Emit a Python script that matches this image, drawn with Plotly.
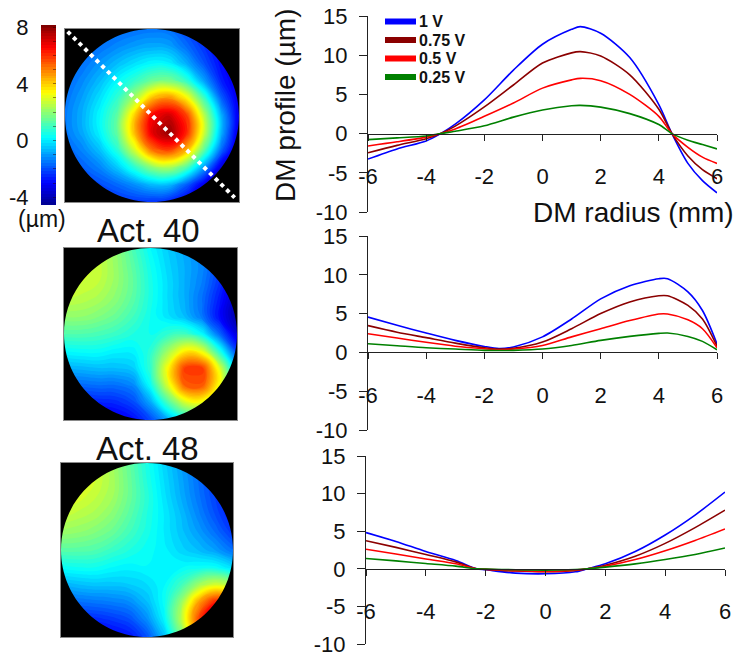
import plotly.graph_objects as go

FIG_W, FIG_H = 736, 657
FONT = "Liberation Sans, Arial, Helvetica, sans-serif"

# ---------------- DM profiles along the diagonal (um) ----------------
SERIES_NAMES = ["1 V", "0.75 V", "0.5 V", "0.25 V"]
SERIES_COLORS = ["#0000ff", "#8b0000", "#ff0000", "#008000"]

RADIUS_CENTER = [-6, -5, -4, -3.5, -3, -2, -1, 0, 1, 1.3, 2, 3, 4, 4.45, 5, 5.5, 6]
CENTER_1V = [-3.25, -1.95, -0.93, 0, 1.2, 4.3, 8.1, 11.4, 13.3, 13.65, 12.8, 9.7, 3.7, 0, -3.8, -6.0, -7.55]
CENTER_075V = [-2.45, -1.5, -0.65, 0, 0.95, 3.4, 6.2, 9.0, 10.3, 10.45, 9.9, 7.5, 3.1, 0, -2.85, -4.6, -5.75]
CENTER_05V = [-1.58, -1.05, -0.45, 0, 0.6, 2.2, 3.9, 5.8, 6.85, 7.05, 6.75, 5.0, 2.2, 0, -1.75, -3.0, -3.8]
CENTER_025V = [-0.77, -0.55, -0.3, 0, 0.3, 1.0, 2.1, 3.0, 3.55, 3.6, 3.38, 2.55, 1.15, 0, -0.85, -1.4, -1.95]

RADIUS_ACT40 = [-6, -5, -4, -3, -2, -1.5, -1, 0, 1, 2, 3, 4, 4.3, 5, 5.5, 6]
ACT40_1V = [4.55, 3.5, 2.5, 1.55, 0.77, 0.5, 0.7, 2.0, 4.3, 6.9, 8.6, 9.5, 9.5, 7.8, 5.4, 1.1]
ACT40_075V = [3.45, 2.6, 1.9, 1.2, 0.6, 0.43, 0.52, 1.33, 3.05, 5.0, 6.5, 7.3, 7.3, 6.05, 4.3, 0.8]
ACT40_05V = [2.4, 1.85, 1.3, 0.8, 0.47, 0.35, 0.43, 0.9, 2.0, 3.05, 4.1, 4.95, 4.95, 4.2, 3.05, 0.6]
ACT40_025V = [1.12, 0.86, 0.6, 0.43, 0.26, 0.24, 0.26, 0.43, 0.9, 1.55, 2.06, 2.45, 2.5, 2.06, 1.42, 0.34]

RADIUS_ACT48 = [-6, -5, -4, -3, -2.3, -2, -1, 0, 1, 1.4, 2, 3, 4, 5, 6]
ACT48_1V = [4.82, 3.64, 2.3, 1.1, 0, -0.13, -0.57, -0.66, -0.4, 0, 0.66, 2.3, 4.5, 7.15, 10.2]
ACT48_075V = [3.73, 2.85, 1.9, 0.92, 0, -0.08, -0.3, -0.4, -0.22, 0, 0.48, 1.67, 3.38, 5.48, 7.8]
ACT48_05V = [2.6, 1.97, 1.3, 0.66, 0, -0.06, -0.26, -0.35, -0.18, 0, 0.35, 1.23, 2.4, 3.77, 5.3]
ACT48_025V = [1.36, 1.05, 0.7, 0.35, 0, -0.03, -0.13, -0.18, -0.09, 0, 0.22, 0.66, 1.23, 1.9, 2.76]

RADIUS_TICKS = [-6, -4, -2, 0, 2, 4, 6]
PROFILE_TICKS = [-10, -5, 0, 5, 10, 15]

# ---------------- measured DM surfaces (um), rows top -> bottom ----------------
GRID = [-1.0, -0.8, -0.6, -0.4, -0.2, 0.0, 0.2, 0.4, 0.6, 0.8, 1.0]

SURF_CENTER = [
    [-2.40, -2.20, -1.95, -1.76, -1.62, -1.52, -1.60, -2.13, -2.68, -3.19, -3.60],
    [-2.20, -1.90, -1.58, -1.26, -0.99, -0.85, -0.95, -1.63, -2.39, -3.07, -3.63],
    [-1.94, -1.57, -1.09, -0.60, -0.15, 0.20, 0.10, -0.80, -1.95, -2.94, -3.60],
    [-1.74, -1.24, -0.62, 0.19, 0.85, 1.57, 1.71, 0.85, -0.95, -2.63, -3.47],
    [-1.57, -0.95, -0.15, 0.80, 2.30, 4.26, 4.85, 3.50, 1.00, -1.81, -3.39],
    [-1.45, -0.77, 0.19, 1.35, 4.00, 6.60, 7.20, 5.77, 2.50, -0.80, -3.35],
    [-1.51, -0.86, 0.11, 1.41, 4.25, 6.90, 7.90, 6.10, 2.74, -0.80, -3.54],
    [-1.83, -1.30, -0.55, 0.67, 2.83, 5.15, 5.77, 4.30, 1.35, -1.73, -3.90],
    [-2.20, -1.80, -1.31, -0.47, 0.73, 1.94, 2.32, 1.20, -1.05, -3.54, -4.33],
    [-2.54, -2.34, -2.04, -1.67, -1.18, -0.63, -0.66, -1.84, -3.31, -4.34, -4.70],
    [-2.90, -2.76, -2.59, -2.44, -2.35, -2.39, -2.63, -3.27, -3.89, -4.48, -4.93],
]

SURF_ACT40 = [
    [3.2, 3.0, 2.6, 2.0, 1.1, 0.2, -0.4, -0.9, -1.4, -2.2, -3.0],
    [3.2, 3.0, 2.7, 2.1, 1.3, 0.4, -0.3, -0.8, -1.3, -2.2, -3.2],
    [3.0, 2.8, 2.6, 2.1, 1.4, 0.5, -0.2, -0.8, -1.4, -2.4, -3.6],
    [2.6, 2.5, 2.3, 1.9, 1.3, 0.5, -0.2, -0.8, -1.6, -2.7, -4.0],
    [2.0, 2.0, 1.8, 1.5, 1.0, 0.4, -0.1, -0.6, -1.5, -2.9, -4.2],
    [1.2, 1.2, 1.1, 0.9, 0.6, 0.4, 0.8, 1.0, 0.2, -1.7, -3.5],
    [0.2, 0.3, 0.3, 0.1, 0.1, 0.7, 2.2, 3.6, 3.1, 0.6, -2.2],
    [-0.8, -0.7, -0.6, -0.6, -0.4, 0.8, 3.4, 5.9, 5.9, 3.0, -0.6],
    [-1.8, -1.7, -1.6, -1.6, -1.3, 0.3, 2.9, 5.4, 5.5, 3.2, 0.3],
    [-2.8, -2.7, -2.6, -2.5, -2.1, -0.9, 1.1, 2.8, 3.1, 1.9, 0.2],
    [-3.6, -3.5, -3.4, -3.3, -2.9, -2.1, -0.9, 0.2, 0.6, 0.3, -0.2],
]

SURF_ACT48 = [
    [3.4, 3.2, 2.8, 2.2, 1.4, 0.5, -0.3, -1.0, -1.7, -2.4, -3.1],
    [3.3, 3.1, 2.8, 2.3, 1.5, 0.6, -0.2, -0.9, -1.6, -2.3, -3.0],
    [3.1, 2.9, 2.6, 2.2, 1.5, 0.7, -0.1, -0.8, -1.5, -2.2, -2.9],
    [2.7, 2.5, 2.3, 1.9, 1.3, 0.6, 0.0, -0.6, -1.3, -2.0, -2.7],
    [2.1, 2.0, 1.8, 1.5, 1.0, 0.5, 0.0, -0.5, -1.0, -1.6, -2.3],
    [1.3, 1.3, 1.2, 0.9, 0.6, 0.3, 0.1, -0.3, -0.6, -1.0, -1.6],
    [0.3, 0.4, 0.4, 0.2, 0.1, 0.2, 0.1, 0.2, 0.3, 0.3, -0.2],
    [-0.8, -0.6, -0.5, -0.5, -0.4, -0.2, 0.2, 1.0, 2.2, 2.9, 2.3],
    [-1.8, -1.6, -1.5, -1.4, -1.2, -0.6, 0.3, 2.1, 4.6, 6.3, 5.4],
    [-2.8, -2.6, -2.5, -2.3, -2.0, -1.2, 0.1, 2.5, 5.7, 7.9, 7.0],
    [-3.6, -3.4, -3.3, -3.1, -2.8, -2.0, -0.6, 1.6, 4.4, 6.3, 5.6],
]

Z_MIN, Z_MAX = -4.55, 8.15
N_LEVELS = 64
CBAR_TICKS = [-4, 0, 4, 8]

JET = [
    [0.0, "rgb(0,0,143)"],
    [0.125, "rgb(0,0,255)"],
    [0.375, "rgb(0,255,255)"],
    [0.625, "rgb(255,255,0)"],
    [0.875, "rgb(255,0,0)"],
    [1.0, "rgb(128,0,0)"],
]


def fx(px):
    return px / FIG_W


def fy(py):
    return 1 - py / FIG_H


def tick_text(vals):
    # plain hyphen-minus for negative labels
    return [str(v) for v in vals]


fig = go.Figure()
layout = {}
shapes = []
annotations = []

# ---------------- profile panels ----------------
panels = [
    (RADIUS_CENTER, [CENTER_1V, CENTER_075V, CENTER_05V, CENTER_025V], (368, 717, 16, 212)),
    (RADIUS_ACT40, [ACT40_1V, ACT40_075V, ACT40_05V, ACT40_025V], (368, 717, 236, 430)),
    (RADIUS_ACT48, [ACT48_1V, ACT48_075V, ACT48_05V, ACT48_025V], (366, 725, 456, 644)),
]
Y_RANGE = [-10, 15]
TICK_FONT = dict(family=FONT, size=22, color="#111")

for i, (xs, series, (x0, x1, y0, y1)) in enumerate(panels, start=1):
    sfx = "" if i == 1 else str(i)
    for name, color, ys in zip(SERIES_NAMES, SERIES_COLORS, series):
        fig.add_trace(go.Scatter(
            x=xs, y=ys, mode="lines", name=name,
            line=dict(color=color, width=1.6, shape="spline", smoothing=0.8),
            xaxis="x" + sfx, yaxis="y" + sfx, showlegend=False, hoverinfo="skip",
        ))
    d0, d1 = fy(y1), fy(y0)
    zero_pos = d0 + (0 - Y_RANGE[0]) / (Y_RANGE[1] - Y_RANGE[0]) * (d1 - d0)
    layout["xaxis" + sfx] = dict(
        domain=[fx(x0), fx(x1)], range=[-6, 6], anchor="free", position=zero_pos,
        tickvals=RADIUS_TICKS, ticktext=tick_text(RADIUS_TICKS),
        ticks="outside", ticklen=6, tickwidth=1, tickcolor="#222",
        showline=True, linecolor="#222", linewidth=1, showgrid=False, zeroline=False,
        tickfont=TICK_FONT, ticklabelstandoff=17, ticklabeloverflow="allow", automargin=False,
    )
    layout["yaxis" + sfx] = dict(
        domain=[d0, d1], range=Y_RANGE, anchor="x" + sfx,
        tickvals=PROFILE_TICKS, ticktext=tick_text(PROFILE_TICKS),
        ticks="outside", ticklen=8, tickwidth=1, tickcolor="#222",
        showline=True, linecolor="#222", linewidth=1, showgrid=False, zeroline=False,
        tickfont=TICK_FONT, ticklabelstandoff=7, ticklabeloverflow="allow", automargin=False,
    )

# legend swatches and labels
LEG_TOP, LEG_STEP = 21.5, 18.5
for k, (name, color) in enumerate(zip(SERIES_NAMES, SERIES_COLORS)):
    yy = fy(LEG_TOP + k * LEG_STEP)
    shapes.append(dict(type="line", xref="paper", yref="paper", x0=fx(385), x1=fx(416),
                       y0=yy, y1=yy, line=dict(color=color, width=6)))
    annotations.append(dict(text="<b>%s</b>" % name, xref="paper", yref="paper", x=fx(418), y=yy,
                            xanchor="left", yanchor="middle", showarrow=False, borderpad=0,
                            font=dict(family=FONT, size=16, color="#111")))

annotations.append(dict(text="DM profile (\u00b5m)", xref="paper", yref="paper", x=fx(285), y=fy(106),
                        textangle=-90, showarrow=False, xanchor="center", yanchor="middle",
                        font=dict(family=FONT, size=28, color="#111")))
annotations.append(dict(text="DM radius (mm)", xref="paper", yref="paper", x=fx(736), y=fy(212),
                        showarrow=False, xanchor="right", yanchor="middle",
                        font=dict(family=FONT, size=28, color="#111")))

# ---------------- surface maps ----------------
surfaces = [
    (SURF_CENTER, (65, 239, 29, 202)),
    (SURF_ACT40, (64, 237, 248, 420)),
    (SURF_ACT48, (61, 233, 463, 637)),
]
K = 0.5523
mask_path = ("M -1,-1 L 1,-1 L 1,1 L -1,1 Z "
             "M 1,0 C 1,{k} {k},1 0,1 C -{k},1 -1,{k} -1,0 "
             "C -1,-{k} -{k},-1 0,-1 C {k},-1 1,-{k} 1,0 Z").format(k=K)

for j, (surf, (x0, x1, y0, y1)) in enumerate(surfaces):
    n = str(4 + j)
    ct = dict(
        x=GRID, y=GRID, z=surf, zmin=Z_MIN, zmax=Z_MAX, colorscale=JET,
        autocontour=False,
        contours=dict(coloring="fill", showlines=False, start=Z_MIN, end=Z_MAX,
                      size=(Z_MAX - Z_MIN) / N_LEVELS),
        line=dict(width=0, smoothing=1.3),
        xaxis="x" + n, yaxis="y" + n, hoverinfo="skip", showscale=(j == 0),
    )
    if j == 0:
        ct["colorbar"] = dict(
            x=fx(41), xanchor="left", xpad=0, y=fy(115), yanchor="middle", ypad=0,
            len=180, lenmode="pixels", thickness=15, thicknessmode="pixels",
            outlinewidth=0, showticklabels=False, ticks="inside", dtick=1, tick0=0,
            ticklen=3, tickcolor="rgba(40,0,0,0.45)",
        )
    fig.add_trace(go.Contour(**ct))
    layout["xaxis" + n] = dict(domain=[fx(x0), fx(x1)], range=[-1, 1], anchor="y" + n,
                               showticklabels=False, ticks="", showgrid=False, zeroline=False,
                               showline=True, mirror=True, linecolor="#8a8a8a", linewidth=1,
                               automargin=False)
    layout["yaxis" + n] = dict(domain=[fy(y1), fy(y0)], range=[1, -1], anchor="x" + n,
                               showticklabels=False, ticks="", showgrid=False, zeroline=False,
                               showline=True, mirror=True, linecolor="#8a8a8a", linewidth=1,
                               automargin=False)
    shapes.append(dict(type="path", xref="x" + n, yref="y" + n, path=mask_path,
                       fillcolor="black", fillrule="evenodd", line=dict(width=0), layer="above"))

# dotted diagonal across the first map
shapes.append(dict(type="line", xref="x4", yref="y4", x0=-0.97, y0=-0.97, x1=0.95, y1=0.95,
                   line=dict(color="white", width=4, dash="4px,4px"), layer="above"))

# colour-scale labels on the left of the bar
fig.add_trace(go.Scatter(x=[0], y=[0], xaxis="x7", yaxis="y7", mode="markers",
                         marker=dict(opacity=0), showlegend=False, hoverinfo="skip"))
layout["xaxis7"] = dict(domain=[fx(41), fx(56)], range=[0, 1], anchor="y7", visible=False,
                        automargin=False)
layout["yaxis7"] = dict(domain=[fy(205), fy(25)], range=[Z_MIN, Z_MAX], anchor="free", position=fx(41),
                        side="left", tickvals=CBAR_TICKS, ticktext=tick_text(CBAR_TICKS),
                        ticks="outside", ticklen=8,
                        tickcolor="rgba(0,0,0,0)", showline=False, showgrid=False, zeroline=False,
                        tickfont=dict(family=FONT, size=22, color="#111"), automargin=False)

annotations.append(dict(text="(\u00b5m)", xref="paper", yref="paper", x=fx(42), y=fy(219),
                        showarrow=False, xanchor="center", yanchor="middle",
                        font=dict(family=FONT, size=23, color="#111")))
for label, cx, cy in [("Act. 40", 148, 230), ("Act. 48", 147, 448)]:
    annotations.append(dict(text=label, xref="paper", yref="paper", x=fx(cx), y=fy(cy),
                            showarrow=False, xanchor="center", yanchor="middle",
                            font=dict(family=FONT, size=33, color="#111")))

fig.update_layout(
    template="none",
    width=FIG_W, height=FIG_H, margin=dict(l=0, r=0, t=0, b=0, pad=0, autoexpand=False),
    paper_bgcolor="white", plot_bgcolor="white", showlegend=False,
    font=dict(family=FONT, color="#111"),
    shapes=shapes, annotations=annotations, **layout,
)

fig.write_html("out.html")
